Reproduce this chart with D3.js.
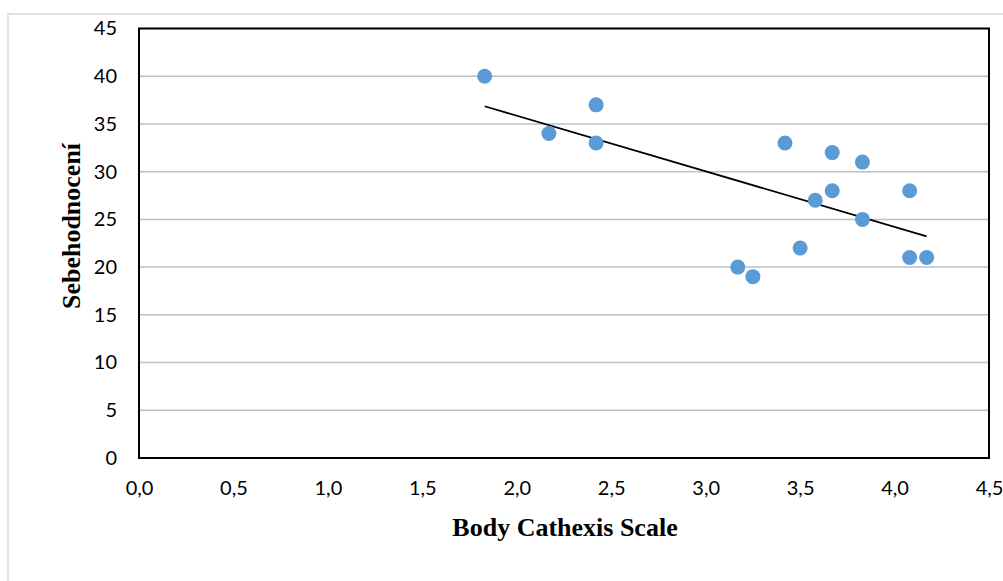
<!DOCTYPE html>
<html>
<head>
<meta charset="utf-8">
<script src="https://cdn.jsdelivr.net/npm/d3@7"></script>
<style>
    body { margin: 0; background: #fff; }
    svg { display: block; }
</style>
</head>
<body>
<div id="chart"></div>
<script>
// Body Cathexis Scale (x) vs. Sebehodnocení (y)
const bodyCathexis = [1.83, 2.17, 2.42, 2.42, 3.17, 3.25, 3.42, 3.5, 3.58, 3.67, 3.67, 3.83, 3.83, 4.08, 4.08, 4.17];
const selfRating   = [40,   34,   37,   33,   20,   19,   33,   22,  27,   32,   28,   31,   25,   28,   21,   21];

const xTicks = [0, 0.5, 1, 1.5, 2, 2.5, 3, 3.5, 4, 4.5];
const yTicks = [0, 5, 10, 15, 20, 25, 30, 35, 40, 45];

const svgWidth = 1003;
const svgHeight = 581;

const margin = { top: 28.5, left: 139, right: 14, bottom: 123 };
const width = svgWidth - margin.left - margin.right;
const height = svgHeight - margin.top - margin.bottom;

const svg = d3.select('#chart').append('svg')
    .attr('width', svgWidth)
    .attr('height', svgHeight);

// outer chart frame
svg.append('rect')
    .attr('x', 8)
    .attr('y', 14)
    .attr('width', svgWidth)
    .attr('height', svgHeight)
    .attr('fill', 'none')
    .attr('stroke', '#d9d9d9')
    .attr('stroke-width', 1.5);

const x = d3.scaleLinear().domain([0, 4.5]).range([0, width]);
const y = d3.scaleLinear().domain([0, 45]).range([height, 0]);

const chart = svg.append('g')
    .attr('transform', `translate(${margin.left},${margin.top})`);

// gridlines
chart.selectAll('line.grid')
    .data(yTicks.slice(1))
    .enter()
    .append('line')
    .attr('class', 'grid')
    .attr('x1', 0)
    .attr('x2', width)
    .attr('y1', d => y(d))
    .attr('y2', d => y(d))
    .attr('stroke', '#bfbfbf')
    .attr('stroke-width', 1.5);

// plot frame
chart.append('rect')
    .attr('width', width)
    .attr('height', height)
    .attr('fill', 'none')
    .attr('stroke', '#000')
    .attr('stroke-width', 2);

const fmt = d => d3.format('.1f')(d).replace('.', ',');

const xAxis = chart.append('g')
    .attr('transform', `translate(0,${height})`)
    .call(d3.axisBottom(x).tickValues(xTicks).tickFormat(fmt).tickSize(0).tickPadding(23));

const yAxis = chart.append('g')
    .call(d3.axisLeft(y).tickValues(yTicks).tickSize(0).tickPadding(22));

[xAxis, yAxis].forEach(a => {
    a.select('.domain').remove();
    a.selectAll('text')
        .attr('fill', '#000')
        .style('font-family', 'Lato, "Open Sans", sans-serif')
        .style('font-size', '20px');
});

// linear trendline
const n = bodyCathexis.length;
const mx = d3.mean(bodyCathexis);
const my = d3.mean(selfRating);
let sxy = 0, sxx = 0;
for (let i = 0; i < n; i++) {
    sxy += (bodyCathexis[i] - mx) * (selfRating[i] - my);
    sxx += (bodyCathexis[i] - mx) ** 2;
}
const slope = sxy / sxx;
const intercept = my - slope * mx;
const xExt = d3.extent(bodyCathexis);

chart.append('line')
    .attr('x1', x(xExt[0]))
    .attr('y1', y(intercept + slope * xExt[0]))
    .attr('x2', x(xExt[1]))
    .attr('y2', y(intercept + slope * xExt[1]))
    .attr('stroke', '#000')
    .attr('stroke-width', 1.8);

// points
chart.selectAll('circle')
    .data(bodyCathexis.map((d, i) => [d, selfRating[i]]))
    .enter()
    .append('circle')
    .attr('cx', d => x(d[0]))
    .attr('cy', d => y(d[1]))
    .attr('r', 7.5)
    .attr('fill', '#5b9bd5');

// axis titles
svg.append('text')
    .attr('x', 565)
    .attr('y', 536)
    .style('text-anchor', 'middle')
    .style('font-family', '"Liberation Serif", "Times New Roman", serif')
    .style('font-weight', 'bold')
    .style('font-size', '26px')
    .text('Body Cathexis Scale');

svg.append('text')
    .attr('transform', 'translate(80,226) rotate(-90)')
    .style('text-anchor', 'middle')
    .style('font-family', '"Liberation Serif", "Times New Roman", serif')
    .style('font-weight', 'bold')
    .style('font-size', '26px')
    .text('Sebehodnocení');
</script>
</body>
</html>
